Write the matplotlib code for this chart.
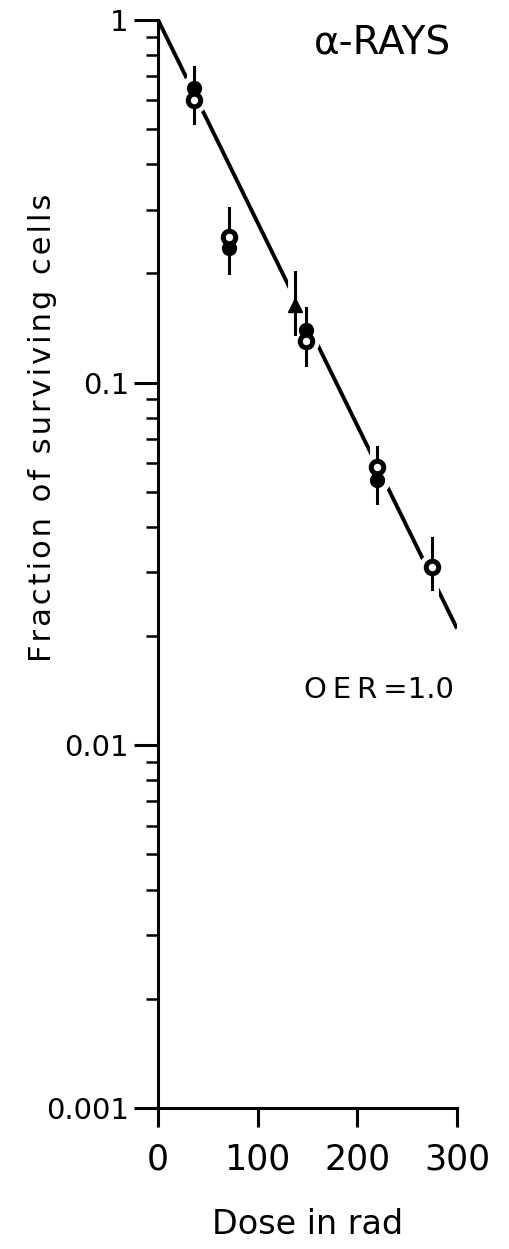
import numpy as np
import matplotlib
matplotlib.use("Agg")
import matplotlib.pyplot as plt
from matplotlib.ticker import LogLocator, FixedLocator, NullFormatter

# --- data ---
dose = [36, 71, 137, 148, 220, 275]
frac_filled = [0.65, 0.235, 0.164, 0.140, 0.054, 0.031]
frac_open = [0.60, 0.252, None, 0.130, 0.0587, 0.031]
filled_tri = [False, False, True, False, False, False]
err_top = [0.74, 0.303, 0.202, 0.161, 0.0666, 0.0374]
err_bot = [0.52, 0.201, 0.136, 0.112, 0.0467, 0.0269]

fit_dose = [0, 300]
fit_frac = [1.0, 0.021]

x_ticks = [0, 100, 200, 300]
y_ticks = [0.001, 0.01, 0.1, 1]
y_ticklabels = ["0.001", "0.01", "0.1", "1"]

plt.rcParams['font.family'] = ['DejaVu Sans']

fig = plt.figure(figsize=(5.1, 12.49), dpi=100)
ax = fig.add_axes([0.310, 0.1129, 0.586, 0.8711])

# survival fit line
ax.plot(fit_dose, fit_frac, color="black", lw=2.8, zorder=1, solid_capstyle="butt")

# white underlay so the line breaks around the points
for d, ff, fo, lo, hi, tri in zip(dose, frac_filled, frac_open, err_bot, err_top, filled_tri):
    ax.plot([d, d], [lo, hi], color="white", lw=10, zorder=1.5)
    ax.plot(d, ff, marker="^" if tri else "o", ms=18, color="white", zorder=1.5)
    if fo is not None:
        ax.plot(d, fo, marker="o", ms=18, color="white", zorder=1.5)

# error bars
for d, lo, hi in zip(dose, err_bot, err_top):
    ax.plot([d, d], [lo, hi], color="black", lw=2.2, zorder=2)

# markers: filled and open symbols overlapping
for d, ff, fo, tri in zip(dose, frac_filled, frac_open, filled_tri):
    m = "^" if tri else "o"
    ax.plot(d, ff, marker=m, ms=10, color="black", mec="black", zorder=3, ls="none")
    if fo is not None:
        ax.plot(d, fo, marker="o", ms=9, mfc="white", mec="black", mew=3.6,
                zorder=4, ls="none")

ax.set_yscale("log")
ax.set_xlim(0, 300)
ax.set_ylim(0.001, 1)

ax.spines["top"].set_visible(False)
ax.spines["right"].set_visible(False)
ax.spines["left"].set_linewidth(2.2)
ax.spines["bottom"].set_linewidth(2.2)

ax.yaxis.set_major_locator(FixedLocator(y_ticks))
ax.set_yticklabels(y_ticklabels)
ax.yaxis.set_minor_locator(LogLocator(base=10, subs=np.arange(2, 10)))
ax.yaxis.set_minor_formatter(NullFormatter())
ax.set_xticks(x_ticks)

ax.tick_params(axis="y", which="major", direction="out", length=17, width=2.2,
               labelsize=21, pad=4)
ax.tick_params(axis="y", which="minor", direction="out", length=9, width=1.8)
ax.tick_params(axis="x", which="major", direction="out", length=14, width=2.2,
               labelsize=25, pad=11)

yl = "\u200a".join("Fraction of surviving cells")
ax.set_ylabel(yl, fontsize=22)
ax.yaxis.set_label_coords(-0.388, 0.625)
ax.yaxis.label.set_verticalalignment("center")
ax.set_xlabel("Dose in rad", fontsize=24)
ax.xaxis.set_label_coords(0.5, -0.092)

ax.text(0.98, 0.978, "α-RAYS", transform=ax.transAxes, fontsize=28,
        ha="right", va="center")
ax.text(0.99, 0.384, "O\u2009E\u2009R\u2009=1.0", transform=ax.transAxes, fontsize=21,
        ha="right", va="center")

fig.savefig("out.png", dpi=100)
